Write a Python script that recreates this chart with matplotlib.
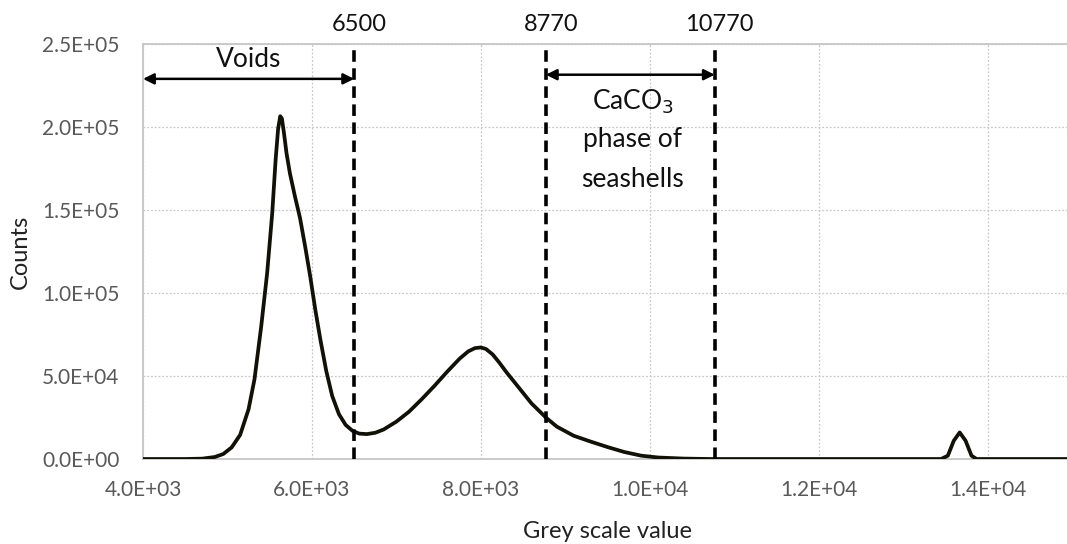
import matplotlib
matplotlib.use("Agg")
import matplotlib.pyplot as plt
from matplotlib.ticker import FixedLocator, FuncFormatter
import matplotlib.transforms as mtransforms

plt.rcParams['font.family'] = ['Lato', 'DejaVu Sans']

# Data
grey = [4000, 4500, 4700, 4850, 4950, 5050, 5150, 5250, 5320, 5400, 5470, 5530, 5570, 5600,
        5625, 5645, 5670, 5700, 5740, 5800, 5860, 5920, 5980, 6040, 6100, 6170, 6240, 6320,
        6400, 6480, 6560, 6650, 6750, 6850, 7000, 7150, 7300, 7450, 7600, 7750, 7850, 7930,
        8000, 8060, 8140, 8220, 8300, 8450, 8600, 8770, 8900, 9100, 9300, 9500, 9700, 9900,
        10100, 10400, 10700, 13450, 13530, 13600, 13670, 13740, 13810, 13870, 15000]
counts = [0, 0, 200, 1200, 3000, 7000, 14500, 30000, 48000, 80000, 112000, 148000, 180000, 199000,
          206500, 205000, 196000, 184000, 172000, 158000, 145000, 128000, 110000, 90000, 72000, 53000, 38000, 27000,
          20500, 17000, 15300, 15000, 15800, 17800, 22500, 28500, 36000, 44000, 52500, 60500, 64800, 66800,
          67200, 66300, 63000, 58000, 52500, 43000, 33500, 25000, 19500, 14000, 10500, 7200, 4200, 2000,
          900, 250, 0, 0, 2000, 11000, 16000, 11000, 2000, 0, 0]

xticks = [4000, 6000, 8000, 10000, 12000, 14000]
yticks = [0, 50000, 100000, 150000, 200000, 250000]
thresholds = [6500, 8770, 10770]
threshold_labels = ["6500", "8770", "10770"]

W, H = 1067, 544
fig = plt.figure(figsize=(W / 100, H / 100), dpi=100)
ax = fig.add_axes([143 / W, 1 - 459 / H, (1072 - 143) / W, (459 - 44) / H])

ax.plot(grey, counts, color='#111108', lw=2.7, solid_joinstyle='round', zorder=3)

ax.set_xlim(4000, 15000)
ax.set_ylim(0, 250000)
ax.xaxis.set_major_locator(FixedLocator(xticks))
ax.yaxis.set_major_locator(FixedLocator(yticks))

def sci(v, pos):
    return "%.1E" % v

ax.xaxis.set_major_formatter(FuncFormatter(sci))
ax.yaxis.set_major_formatter(FuncFormatter(sci))
ax.tick_params(axis='both', length=0, labelsize=15, labelcolor='#595959')
ax.tick_params(axis='x', pad=15)
ax.tick_params(axis='y', pad=17)

ax.grid(True, color='#c8c8c8', linestyle=(0, (1.5, 1.5)), lw=0.9)
ax.set_axisbelow(True)
for s in ['left', 'bottom', 'top']:
    ax.spines[s].set_color('#c6c6c6')
    ax.spines[s].set_linewidth(1.3)
ax.spines['right'].set_visible(False)

ax.set_xlabel("Grey scale value", fontsize=17, color='#222222', labelpad=15)
ax.set_ylabel("Counts", fontsize=17, color='#222222', labelpad=8)

for t in thresholds:
    ax.axvline(t, color='black', lw=2.6, linestyle=(0, (3.2, 1.8)), zorder=4)

trans = mtransforms.blended_transform_factory(ax.transData, ax.transAxes)
shift = mtransforms.ScaledTranslation(5 / 100, 0, fig.dpi_scale_trans)
for t, lab in zip(thresholds, threshold_labels):
    ax.text(t, 1.047, lab, transform=trans + shift, ha='center', va='center',
            fontsize=17, color='#111111')

# arrows
ax.annotate('', xy=(4000, 229000), xytext=(6500, 229000),
            arrowprops=dict(arrowstyle='<|-|>', color='black', lw=1.8,
                            mutation_scale=16, shrinkA=0, shrinkB=0))
ax.annotate('', xy=(8770, 231500), xytext=(10770, 231500),
            arrowprops=dict(arrowstyle='<|-|>', color='black', lw=1.8,
                            mutation_scale=16, shrinkA=0, shrinkB=0))

ax.text(5250, 240500, "Voids", ha='center', va='center', fontsize=19, color='#111111')
ax.text(9800, 215500, "CaCO$_3$", ha='center', va='center', fontsize=19, color='#111111')
ax.text(9800, 192500, "phase of", ha='center', va='center', fontsize=19, color='#111111')
ax.text(9800, 168500, "seashells", ha='center', va='center', fontsize=19, color='#111111')

fig.savefig("out.png", dpi=100)
